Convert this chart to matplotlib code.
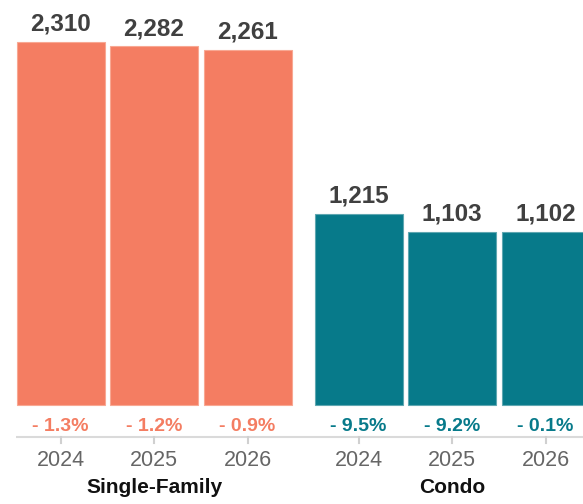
import matplotlib
matplotlib.use("Agg")
import matplotlib.pyplot as plt
import matplotlib.transforms as mtransforms

plt.rcParams['font.family'] = ['Liberation Sans', 'DejaVu Sans']

groups = ["Single-Family", "Condo"]
years = ["2024", "2025", "2026"]
single_family = [2310, 2282, 2261]
condo = [1215, 1103, 1102]
sf_change = ["- 1.3%", "- 1.2%", "- 0.9%"]
condo_change = ["- 9.5%", "- 9.2%", "- 0.1%"]

SF_COLOR = "#F47D62"
SF_EDGE = "#F8A893"
CONDO_COLOR = "#077A8A"
CONDO_EDGE = "#5FA7B1"

W, H = 583, 504
fig = plt.figure(figsize=(W / 100, H / 100), dpi=100)
ax = fig.add_axes([0, 0, 1, 1])

step = 93.5          # px per slot
x0_px = 60.5         # px centre of first bar
gap = 298 / step     # offset of the second group in slots
k = (405 - 42) / 2310  # px per unit
base_px = 405        # px from top where value 0 sits

ax.set_xlim(-x0_px / step, (W - x0_px) / step)
ax.set_ylim(-(H - base_px) / k, base_px / k)
ax.axis("off")

xs_sf = [0, 1, 2]
xs_c = [gap + i for i in range(3)]
bw = 88 / step

ax.bar(xs_sf, single_family, width=bw, color=SF_COLOR, edgecolor=SF_EDGE, linewidth=0.8)
ax.bar(xs_c, condo, width=bw, color=CONDO_COLOR, edgecolor=CONDO_EDGE, linewidth=0.8)

for xs, vals in ((xs_sf, single_family), (xs_c, condo)):
    for x, v in zip(xs, vals):
        ax.annotate(f"{v:,}", (x, v), xytext=(0, 8), textcoords="offset points",
                    ha="center", va="baseline", fontsize=17.5, fontweight="bold",
                    color="#404040")

trans = mtransforms.blended_transform_factory(ax.transData, ax.transAxes)

def fy(px):
    return 1 - px / H

for xs, labels, col in ((xs_sf, sf_change, SF_COLOR), (xs_c, condo_change, CONDO_COLOR)):
    for x, lab in zip(xs, labels):
        ax.text(x, fy(431), lab, transform=trans, ha="center", va="baseline",
                fontsize=14, fontweight="bold", color=col)

# axis line
ax.plot([(16 - x0_px) / step, (W - x0_px) / step], [fy(437), fy(437)], transform=trans,
        color="#DADADA", linewidth=1.5, solid_capstyle="butt", clip_on=False)

for x in xs_sf + xs_c:
    ax.plot([x, x], [fy(437), fy(443)], transform=trans, color="#D0D0D0", linewidth=1.5)

for xs in (xs_sf, xs_c):
    for x, y in zip(xs, years):
        ax.text(x, fy(466), y, transform=trans, ha="center", va="baseline",
                fontsize=15.5, color="#666666")

for xs, g in ((xs_sf, groups[0]), (xs_c, groups[1])):
    ax.text(xs[1], fy(493), g, transform=trans, ha="center", va="baseline",
            fontsize=15, fontweight="bold", color="#111111")

fig.savefig("out.png", dpi=100)
